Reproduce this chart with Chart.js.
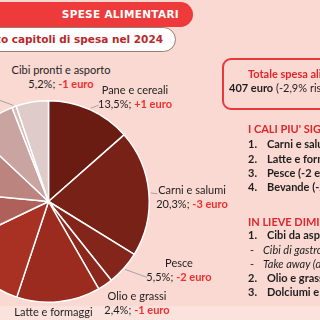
<!DOCTYPE html>
<html>
<head>
<meta charset="utf-8">
<script src="https://cdn.jsdelivr.net/npm/chart.js@4"></script>
<style>
  html, body { margin: 0; padding: 0; }
  body { width: 320px; height: 320px; overflow: hidden; position: relative; background: #fad9d2; font-family: Lato, sans-serif; color: #1e1e1e; }
  .band { position: absolute; left: 0; top: 306px; width: 320px; height: 14px; background: #fbe2dc; }
  .pill { position: absolute; white-space: nowrap; font-family: "DejaVu Sans", sans-serif; font-weight: bold; text-align: right; box-sizing: border-box; }
  #head { left: -200px; top: 2px; width: 393px; height: 25px; line-height: 25px; background: #ee3a3a; color: #fff; border-radius: 0 13px 13px 0; padding-right: 14px; font-size: 10.5px; letter-spacing: 0.3px; }
  #sub { left: -200px; top: 27px; width: 376px; height: 25px; line-height: 23px; background: #fff; color: #b8282c; border: 1px solid #9c7c6c; border-radius: 0 13px 13px 0; padding-right: 12px; font-size: 10.5px; }
  canvas { position: absolute; left: -53px; top: 100px; }
  .lab { position: absolute; transform: translateX(-50%); text-align: center; font-size: 11px; line-height: 14px; white-space: nowrap; }
  .lab b { color: #f0302f; }
  #box { position: absolute; left: 222px; top: 58px; width: 140px; height: 52px; border: 2px solid #e8383a; border-radius: 9px; box-sizing: border-box; }
  .t { position: absolute; white-space: nowrap; font-size: 11px; line-height: 14px; }
  .red { color: #e0262b; font-weight: bold; }
  .bk { font-weight: bold; }
  .num { position: absolute; left: 0; }
  .it { font-style: italic; font-weight: normal; }
</style>
</head>
<body>
<div class="band"></div>
<div id="head" class="pill">SPESE ALIMENTARI</div>
<div id="sub" class="pill">Peso e andamento capitoli di spesa nel 2024</div>
<canvas id="pie" width="320" height="220"></canvas>

<div class="lab" style="left:61px; top:63px">Cibi pronti e asporto<br>5,2%; <b>-1 euro</b></div>
<div class="lab" style="left:135px; top:83px">Pane e cereali<br>13,5%; <b>+1 euro</b></div>
<div class="lab" style="left:192px; top:183px">Carni e salumi<br>20,3%; <b>-3 euro</b></div>
<div class="lab" style="left:179px; top:256px">Pesce<br>5,5%; <b>-2 euro</b></div>
<div class="lab" style="left:137px; top:289px">Olio e grassi<br>2,4%; <b>-1 euro</b></div>
<div class="lab" style="left:53.5px; top:305px">Latte e formaggi</div>

<div id="box"></div>
<div class="t red" style="left:248px; top:67px">Totale spesa alimentare</div>
<div class="t" style="left:229px; top:81px"><span class="bk">407 euro</span> (-2,9% rispetto al 2023)</div>

<div class="t red" style="left:248px; top:122px">I CALI PIU' SIGNIFICATIVI</div>
<div class="t bk" style="left:248px; top:137px; padding-left:19px"><span class="num">1.</span>Carni e salumi (-3 euro)</div>
<div class="t bk" style="left:248px; top:152px; padding-left:19px"><span class="num">2.</span>Latte e formaggi (-3 euro)</div>
<div class="t bk" style="left:248px; top:166px; padding-left:19px"><span class="num">3.</span>Pesce (-2 euro)</div>
<div class="t bk" style="left:248px; top:180px; padding-left:19px"><span class="num">4.</span>Bevande (-2 euro)</div>

<div class="t red" style="left:248px; top:215px">IN LIEVE DIMINUZIONE</div>
<div class="t bk" style="left:248px; top:228px; padding-left:19px"><span class="num">1.</span>Cibi da asporto (-1 euro)</div>
<div class="t" style="left:250px; top:243px; padding-left:13px"><span class="num">-</span><span class="it">Cibi di gastronomia</span></div>
<div class="t" style="left:250px; top:257px; padding-left:13px"><span class="num">-</span><span class="it">Take away (delivery)</span></div>
<div class="t bk" style="left:248px; top:271px; padding-left:19px"><span class="num">2.</span>Olio e grassi (-1 euro)</div>
<div class="t bk" style="left:248px; top:285px; padding-left:19px"><span class="num">3.</span>Dolciumi e snack (-1 euro)</div>

<script>
// Capitoli di spesa (quota % sul totale), in senso orario dalle ore 12
const categories = ['Pane e cereali', 'Carni e salumi', 'Pesce', 'Olio e grassi', 'Latte e formaggi',
  'Verdure', 'Frutta', 'Bevande', 'Dolciumi e snack', 'Altro', 'Cibi pronti e asporto'];
const shares = [13.5, 20.3, 5.5, 2.4, 13.4, 12.8, 8.6, 10.5, 7.1, 0.7, 5.2];

const sliceColors = ['#6a1b12', '#782116', '#83251a', '#8b271c', '#9b2a1f', '#a83123',
  '#b0605a', '#bb847f', '#c9a4a0', '#d6bdb9', '#dfcbca'];

// leader lines: slice index -> offset of the end point from the slice's outer edge
const leaders = [[0, 8, -3], [1, 7, 1], [2, 22, 8], [9, -22, -8]];

const leaderPlugin = {
  id: 'leaders',
  afterDraw(chart) {
    const ctx = chart.ctx;
    const arcs = chart.getDatasetMeta(0).data;
    ctx.save();
    ctx.strokeStyle = '#a9a2a0';
    ctx.lineWidth = 1;
    leaders.forEach(([i, dx, dy]) => {
      const a = arcs[i];
      const mid = (a.startAngle + a.endAngle) / 2;
      const r = a.outerRadius + 1.5;
      const x = a.x + Math.cos(mid) * r;
      const y = a.y + Math.sin(mid) * r;
      ctx.beginPath();
      ctx.moveTo(x, y);
      ctx.lineTo(x + dx, y + dy);
      ctx.stroke();
    });
    ctx.restore();
  }
};

new Chart(document.getElementById('pie'), {
  type: 'pie',
  data: {
    labels: categories,
    datasets: [{
      data: shares,
      backgroundColor: sliceColors,
      borderColor: '#ffffff',
      borderWidth: 1.5,
      hoverOffset: 0
    }]
  },
  options: {
    responsive: false,
    animation: false,
    layout: { padding: { right: 117, bottom: 17 } },
    plugins: { legend: { display: false }, tooltip: { enabled: false } }
  },
  plugins: [leaderPlugin]
});
</script>
</body>
</html>
